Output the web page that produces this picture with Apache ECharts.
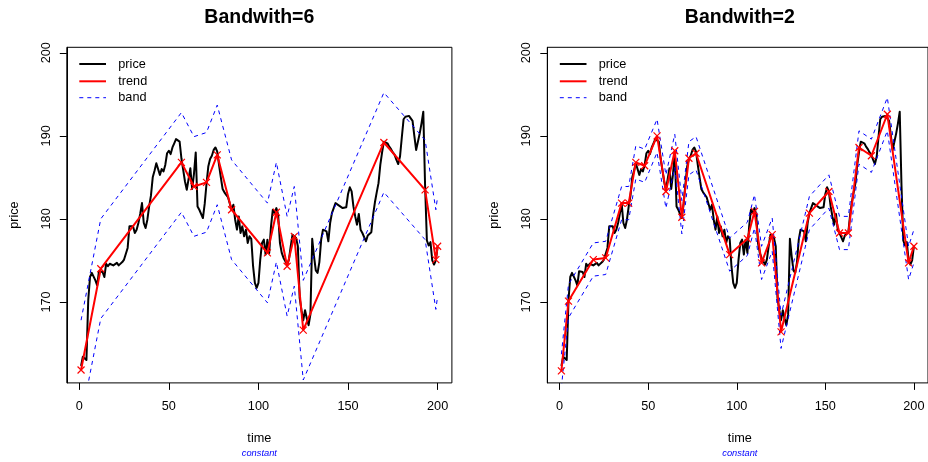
<!DOCTYPE html>
<html>
<head>
<meta charset="utf-8">
<script src="https://cdn.jsdelivr.net/npm/echarts@6/dist/echarts.min.js"></script>
<style>
html,body{margin:0;padding:0;background:#ffffff;}
#chart{width:928px;height:462px;}
</style>
</head>
<body>
<div id="chart"></div>
<script>
// Closing price, one value per time step t = 1..200
const price = [
  162.3,163.4,163.2,163.0,170.2,173.0,173.5,173.3,172.6,172.0,
  173.7,173.9,173.6,173.0,174.6,174.3,174.6,174.7,174.4,174.3,
  174.7,174.4,174.3,174.8,175.1,175.3,176.5,179.1,179.3,179.1,
  178.3,178.7,179.5,180.6,181.9,179.5,178.9,179.9,181.5,182.8,
  185.0,185.8,186.7,186.7,185.3,186.0,185.7,186.5,187.9,188.2,
  187.8,188.6,189.1,189.6,189.8,189.3,187.3,185.9,184.5,183.5,
  183.7,186.1,183.6,185.4,188.0,181.5,181.1,180.9,180.1,181.8,
  184.2,186.3,187.2,187.6,188.3,188.6,188.1,186.5,185.0,183.6,
  183.2,182.9,182.6,182.5,181.1,181.7,179.9,178.7,180.3,178.3,
  179.1,177.9,178.7,177.1,177.9,177.6,174.3,172.3,171.7,172.3,
  175.1,177.1,177.5,175.7,177.5,175.9,179.1,181.1,180.7,181.3,
  180.5,177.1,175.9,175.3,175.5,174.5,175.1,176.7,178.1,178.3,
  177.7,176.7,170.5,169.0,167.8,169.0,168.0,167.2,168.5,177.6,
  175.5,173.8,173.5,174.8,177.5,178.7,178.9,178.5,177.3,179.5,
  180.7,180.9,181.9,182.1,181.6,181.8,181.3,181.5,181.4,183.0,
  183.8,183.3,181.5,180.3,179.3,180.6,178.7,178.3,178.1,177.3,
  178.0,177.9,178.4,180.5,182.0,183.2,184.3,186.5,188.0,189.3,
  189.3,189.1,188.7,188.4,188.0,187.7,187.1,186.6,187.5,189.8,
  192.0,192.3,192.5,192.4,192.5,191.8,190.0,188.3,188.5,190.3,
  191.5,192.9,184.0,177.4,176.8,177.2,175.0,174.5,175.0,176.7
];

// Piecewise-linear trend, bandwidth 6
const trend6Time  = [1, 12, 57, 64, 71, 77, 85, 105, 110, 116, 120, 125, 170, 193, 199, 200];
const trend6Value = [161.8,174.0,186.8,183.9,184.4,187.7,181.1,175.9,180.8,174.3,177.9,166.6,189.2,183.5,175.1,176.7];
const band6Upper  = [167.8,180.0,192.8,189.9,190.4,193.7,187.1,181.9,186.8,180.3,183.9,172.6,195.2,189.5,181.1,182.7];
const band6Lower  = [155.8,168.0,180.8,177.9,178.4,181.7,175.1,169.9,174.8,168.3,171.9,160.6,183.2,177.5,169.1,170.7];

// Piecewise-linear trend, bandwidth 2
const trend2Time  = [1, 5, 19, 26, 35, 39, 43, 48, 55, 60, 65, 69, 73, 77, 96, 106, 110, 114, 120, 125, 141, 152, 158, 163, 169, 176, 185, 197, 200];
const trend2Value = [161.7,170.1,175.1,175.3,181.9,181.9,186.8,186.4,190.0,183.3,188.2,180.2,187.3,187.9,175.7,177.6,180.9,174.7,178.1,166.4,180.7,183.3,178.3,178.3,188.6,187.6,192.6,174.7,176.7];
const band2Upper  = [163.7,172.1,177.1,177.3,183.9,183.9,188.8,188.4,192.0,185.3,190.2,182.2,189.3,189.9,177.7,179.6,182.9,176.7,180.1,168.4,182.7,185.3,180.3,180.3,190.6,189.6,194.6,176.7,178.7];
const band2Lower  = [159.7,168.1,173.1,173.3,179.9,179.9,184.8,184.4,188.0,181.3,186.2,178.2,185.3,185.9,173.7,175.6,178.9,172.7,176.1,164.4,178.7,181.3,176.3,176.3,186.6,185.6,190.6,172.7,174.7];

// Axis ticks
const timeTicks  = [0, 50, 100, 150, 200];
const priceTicks = [170, 180, 190, 200];

const panelTitles = ['Bandwith=6', 'Bandwith=2'];
const legendNames = ['price', 'trend', 'band'];
const xName = 'time';
const yName = 'price';
const subText = 'constant';

const FONT = '"Liberation Sans", Arial, Helvetica, sans-serif';
const PLOT = { top: 47.3, height: 335.6, width: 385.1 };
const PANEL_LEFT = [66.8, 547.3];

const chart = echarts.init(document.getElementById('chart'), null, { renderer: 'canvas' });

function pairs(xs, ys) { return xs.map((x, i) => [x, ys[i]]); }
const pricePairs = price.map((v, i) => [i + 1, v]);

const crossSymbol = 'path://M0,0L10,10M10,0L0,10';

function panelSeries(idx, tTime, tVal, up, lo) {
  const common = { type: 'line', xAxisIndex: idx, yAxisIndex: idx, animation: false, clip: true, silent: true };
  const band = (d) => Object.assign({}, common, {
    data: pairs(tTime, d), symbol: 'none',
    lineStyle: { color: '#0000ff', width: 1, type: [4, 4] }
  });
  return [
    Object.assign({}, common, {
      data: pricePairs, symbol: 'none',
      lineStyle: { color: '#000000', width: 2, join: 'round' }
    }),
    Object.assign({}, common, {
      data: pairs(tTime, tVal), symbol: crossSymbol, symbolSize: 7, showAllSymbol: true,
      itemStyle: { color: 'rgba(0,0,0,0)', borderColor: '#ff0000', borderWidth: 1.2 },
      lineStyle: { color: '#ff0000', width: 2 }
    }),
    band(up),
    band(lo)
  ];
}

function xAxisFor(idx) {
  return {
    type: 'value', gridIndex: idx, min: -6.96, max: 207.96,
    axisLine: { show: false },
    splitLine: { show: false },
    axisTick: { show: true, inside: false, length: 7, customValues: timeTicks, lineStyle: { color: '#000', width: 1 } },
    axisLabel: { show: true, customValues: timeTicks, margin: 17, color: '#000', fontFamily: FONT, fontSize: 12.7 }
  };
}
function yAxisFor(idx) {
  return {
    type: 'value', gridIndex: idx, min: 160.25, max: 200.66,
    axisLine: { show: true, onZero: false, lineStyle: { color: '#000', width: 1 } },
    splitLine: { show: false },
    axisTick: { show: true, inside: false, length: 7, customValues: priceTicks, lineStyle: { color: '#000', width: 1 } },
    axisLabel: { show: true, customValues: priceTicks, rotate: 90, margin: 14, color: '#000', fontFamily: FONT, fontSize: 12.7 }
  };
}

function panelGraphics(idx) {
  const L = PANEL_LEFT[idx];
  const cx = L + PLOT.width / 2;
  const cy = PLOT.top + PLOT.height / 2;
  const lx0 = L + 12.5, lx1 = L + 39.2, tx = L + 51.5;
  const rows = [64, 81.3, 97.7];
  const styles = [
    { stroke: '#000000', lineWidth: 2 },
    { stroke: '#ff0000', lineWidth: 2 },
    { stroke: '#0000ff', lineWidth: 1, lineDash: [4, 4] }
  ];
  const g = [
    { type: 'text', x: cx, y: 18, style: { text: panelTitles[idx], font: 'bold 19.5px ' + FONT, fill: '#000', textAlign: 'center', textVerticalAlign: 'middle' } },
    { type: 'text', x: cx, y: 438.3, style: { text: xName, font: '12.7px ' + FONT, fill: '#000', textAlign: 'center', textVerticalAlign: 'middle' } },
    { type: 'text', x: cx, y: 453.3, style: { text: subText, font: 'italic 9.3px ' + FONT, fill: '#0000ff', textAlign: 'center', textVerticalAlign: 'middle' } },
    { type: 'text', x: L - 52.5, y: cy, rotation: Math.PI / 2, style: { text: yName, font: '12.7px ' + FONT, fill: '#000', textAlign: 'center', textVerticalAlign: 'middle' } }
  ];
  rows.forEach((y, i) => {
    g.push({ type: 'line', shape: { x1: lx0, y1: y, x2: lx1, y2: y }, style: Object.assign({ fill: null }, styles[i]) });
    g.push({ type: 'text', x: tx, y: y, style: { text: legendNames[i], font: '12.7px ' + FONT, fill: '#000', textAlign: 'left', textVerticalAlign: 'middle' } });
  });
  return g;
}

const option = {
  backgroundColor: '#ffffff',
  animation: false,
  grid: PANEL_LEFT.map(l => ({
    left: l, top: PLOT.top, width: PLOT.width, height: PLOT.height,
    show: true, borderColor: '#000', borderWidth: 1, backgroundColor: 'transparent', containLabel: false
  })),
  xAxis: [xAxisFor(0), xAxisFor(1)],
  yAxis: [yAxisFor(0), yAxisFor(1)],
  series: [].concat(
    panelSeries(0, trend6Time, trend6Value, band6Upper, band6Lower),
    panelSeries(1, trend2Time, trend2Value, band2Upper, band2Lower)
  ),
  graphic: [].concat(panelGraphics(0), panelGraphics(1))
};

chart.setOption(option);
</script>
</body>
</html>
